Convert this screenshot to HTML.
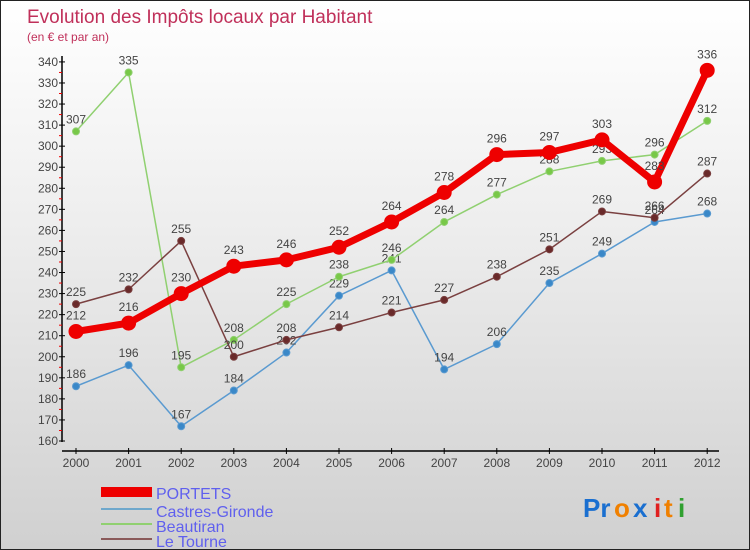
<!DOCTYPE html>
<html><head><meta charset="utf-8"><style>
body{margin:0;}
#wrap{position:relative;width:748px;height:548px;border:1px solid #222;background:linear-gradient(#fff 0%,#eee 40%,#d0d0d0 100%);overflow:hidden;font-family:"Liberation Sans",sans-serif;}
svg text{font-family:"Liberation Sans",sans-serif;}
</style></head><body>
<div id="wrap">
<svg id="chart" width="748" height="548">
<text x="26" y="22" font-size="19" fill="#c0305a">Evolution des Impôts locaux par Habitant</text>
<text x="26" y="40" font-size="12" fill="#c0305a">(en € et par an)</text>
<g id="axes"></g><g id="series"></g>
<g>
<rect x="100" y="486" width="51" height="10" fill="#e00"/>
<text x="155" y="498" font-size="16" fill="#6060ee">PORTETS</text>
<rect x="100" y="507" width="51" height="2" fill="#6fa8cc"/>
<text x="155" y="516" font-size="16" fill="#6060ee">Castres-Gironde</text>
<rect x="100" y="522" width="51" height="2" fill="#90d070"/>
<text x="155" y="531" font-size="16" fill="#6060ee">Beautiran</text>
<rect x="100" y="537" width="51" height="2" fill="#8a5a5a"/>
<text x="155" y="546" font-size="16" fill="#6060ee">Le Tourne</text>
</g>
<g font-size="26" font-weight="bold">
<text x="582" y="516" fill="#1a6fd0">Pr</text><text x="613" y="516" fill="#f08000">o</text><text x="632" y="516" fill="#1a6fd0">x</text><text x="653" y="516" fill="#e02020">i</text><text x="663" y="516" fill="#f08000">t</text><text x="677" y="516" fill="#30a030">i</text>
</g>
</svg>
</div>
<script>
const years=[2000,2001,2002,2003,2004,2005,2006,2007,2008,2009,2010,2011,2012];
const yTicks=[160,170,180,190,200,210,220,230,240,250,260,270,280,290,300,310,320,330,340];
const portets=[212,216,230,243,246,252,264,278,296,297,303,283,336];
const castres=[186,196,167,184,202,229,241,194,206,235,249,264,268];
const beautiran=[307,335,195,208,225,238,246,264,277,288,293,296,312];
const tourne=[225,232,255,200,208,214,221,227,238,251,269,266,287];
const NS="http://www.w3.org/2000/svg";
const x=i=>75+i*52.6;
const y=v=>440-(v-160)*2.106;
function mk(tag,attrs,parent){const e=document.createElementNS(NS,tag);for(const k in attrs)e.setAttribute(k,attrs[k]);parent.appendChild(e);return e;}
const ax=document.getElementById('axes');
let l=mk('line',{x1:61,y1:55,x2:61,y2:441,stroke:'#000','stroke-width':1.5},ax);


l=mk('line',{x1:61,y1:450,x2:718,y2:450,stroke:'#000','stroke-width':1.5},ax);


yTicks.forEach(v=>{
 mk('line',{x1:58,x2:64,y1:y(v),y2:y(v),stroke:'#000'},ax);
 if(v<340)mk('line',{x1:58,x2:61,y1:y(v+5),y2:y(v+5),stroke:'#e00'},ax);
 const t=mk('text',{x:57,y:y(v)+4,'text-anchor':'end','font-size':12,fill:'#444'},ax);t.textContent=v;
 
 
});
years.forEach((yr,i)=>{
 mk('line',{x1:x(i),x2:x(i),y1:447,y2:453,stroke:'#000'},ax);
 const t=mk('text',{x:x(i),y:466,'text-anchor':'middle','font-size':12,fill:'#444'},ax);t.textContent=yr;
 
 
});
const sg=document.getElementById('series');
function series(data,color,dot,w,r,name,off){
 const g=mk('g',{},sg);
 
 
 mk('polyline',{points:data.map((v,i)=>x(i)+','+y(v)).join(' '),fill:'none',stroke:color,'stroke-width':w,'stroke-linejoin':'round'},g);
 data.forEach((v,i)=>{
  const c=mk('circle',{cx:x(i),cy:y(v),r:r,fill:dot,stroke:color,'stroke-width':1},g);
  
  
  const t=mk('text',{x:x(i),y:y(v)-off,'text-anchor':'middle','font-size':12,fill:'#444'},g);t.textContent=v;
  
  
 });
}
series(castres,'#5a9ad0','#3a88c8',1.5,3.5,'castres-gironde-series',8);
series(beautiran,'#90d070','#78c848',1.5,3.5,'beautiran-series',8);
series(tourne,'#7a4040','#6a2a2a',1.5,3.5,'le-tourne-series',8);
series(portets,'#e00','#e00',7,7,'portets-series',12);
</script>
</body></html>
